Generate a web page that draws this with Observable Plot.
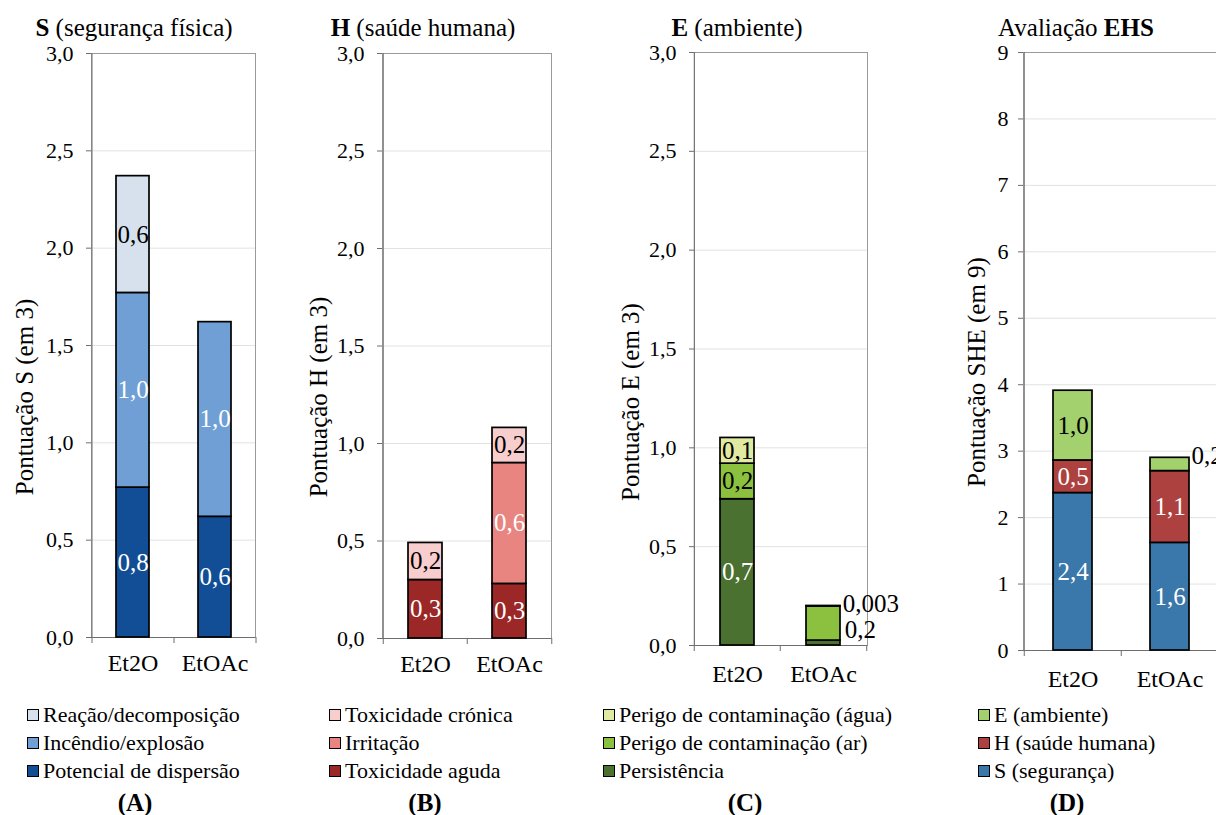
<!DOCTYPE html>
<html><head><meta charset="utf-8">
<script src="https://cdn.jsdelivr.net/npm/d3@7"></script>
<script src="https://cdn.jsdelivr.net/npm/@observablehq/plot@0.6"></script>
<style>
body{margin:0;background:#fff;overflow:hidden}
#root{position:relative;width:1216px;height:815px;overflow:hidden;color:#000;background:#fff}
.abs{position:absolute;white-space:nowrap;line-height:1}
.title{font-size:25px;transform:translate(-50%,-50%)}
.ylab{font-size:25px;transform:translate(-50%,-50%) rotate(-90deg)}
.leg{font-size:22px;display:flex;align-items:center;transform:translateY(-50%)}
.sw{width:12px;height:12px;border:1px solid #000;margin-right:4px;box-sizing:border-box}
.letter{font-size:25px;font-weight:bold;transform:translate(-50%,-50%)}
.plot{position:absolute;top:0}
</style></head><body><div id="root"></div><script>
// ---------- data ----------
const solvents = ["Et2O", "EtOAc"];

// (A) S – segurança física (bottom → top)
const sCats = ["Potencial de dispersão", "Incêndio/explosão", "Reação/decomposição"];
const sColors = ["#124e96", "#6f9fd4", "#d7e1ed"];
const sDispersao = [0.77, 0.62];
const sIncendio = [1.00, 1.00];
const sReacao = [0.60, 0.00];
const sLabels = [["0,8", "0,6"], ["1,0", "1,0"], ["0,6", ""]];

// (B) H – saúde humana
const hCats = ["Toxicidade aguda", "Irritação", "Toxicidade crónica"];
const hColors = ["#9b2727", "#e88581", "#f8cdcd"];
const hAguda = [0.30, 0.28];
const hIrritacao = [0.00, 0.62];
const hCronica = [0.19, 0.18];
const hLabels = [["0,3", "0,3"], ["", "0,6"], ["0,2", "0,2"]];

// (C) E – ambiente
const eCats = ["Persistência", "Perigo de contaminação (ar)", "Perigo de contaminação (água)"];
const eColors = ["#4b7131", "#8cc03f", "#e0eaa0"];
const ePersistencia = [0.74, 0.025];
const eAr = [0.18, 0.172];
const eAgua = [0.13, 0.003];
const eLabels = [["0,7", ""], ["0,2", "0,2"], ["0,1", "0,003"]];

// (D) Avaliação EHS
const dCats = ["S (segurança)", "H (saúde humana)", "E (ambiente)"];
const dColors = ["#3a77aa", "#ad4140", "#a2d16e"];
const dS = [2.37, 1.62];
const dH = [0.49, 1.08];
const dE = [1.05, 0.20];
const dLabels = [["2,4", "1,6"], ["0,5", "1,1"], ["1,0", "0,2"]];

const ticks3 = [0, 0.5, 1, 1.5, 2, 2.5, 3];
const ticks9 = [0, 1, 2, 3, 4, 5, 6, 7, 8, 9];

// ---------- panels ----------
const FONT = "'Liberation Serif', serif";
const fmt1 = d => d.toFixed(1).replace(".", ",");
const fmt0 = d => String(d);

const panels = [
  {left: 0, width: 270, ml: 91, mr: 15, mt: 53, mb: 63, ymax: 3, ticks: ticks3, fmt: fmt1, ypad: 13, xpad: 16,
   cats: sCats, colors: sColors, values: [sDispersao, sIncendio, sReacao], labels: sLabels,
   ink: ["white", "white", "black"], outside: [],
   title: "<b>S</b> (segurança física)", tx: 134, ylab: "Pontuação S (em 3)", yx: 24, yy: 397,
   legX: 27, letter: "(A)", lx: 135},
  {left: 290, width: 280, ml: 92, mr: 19, mt: 53, mb: 62, ymax: 3, ticks: ticks3, fmt: fmt1, ypad: 13, xpad: 16,
   cats: hCats, colors: hColors, values: [hAguda, hIrritacao, hCronica], labels: hLabels,
   ink: ["white", "white", "black"], outside: [],
   title: "<b>H</b> (saúde humana)", tx: 423, ylab: "Pontuação H (em 3)", yx: 318, yy: 397,
   legX: 329, letter: "(B)", lx: 425},
  {left: 600, width: 320, ml: 94, mr: 53, mt: 52, mb: 55, ymax: 3, ticks: ticks3, fmt: fmt1, ypad: 13, xpad: 19,
   cats: eCats, colors: eColors, values: [ePersistencia, eAr, eAgua], labels: eLabels,
   ink: ["white", "black", "black"], outside: [[1, 1, "mid"], [2, 1, "top"]],
   title: "<b>E</b> (ambiente)", tx: 737, ylab: "Pontuação E (em 3)", yx: 630, yy: 402,
   legX: 603, letter: "(C)", lx: 745},
  {left: 940, width: 280, ml: 83, mr: 2, mt: 52, mb: 50, ymax: 9, ticks: ticks9, fmt: fmt0, ypad: 10, xpad: 19,
   cats: dCats, colors: dColors, values: [dS, dH, dE], labels: dLabels,
   ink: ["white", "white", "black"], outside: [[2, 1, "top"]],
   title: "Avaliação <b>EHS</b>", tx: 1076, ylab: "Pontuação SHE (em 9)", yx: 976, yy: 372,
   legX: 978, letter: "(D)", lx: 1067}
];

function table(p) {
  const rows = [];
  p.cats.forEach((c, i) => solvents.forEach((s, j) => {
    const out = p.outside.find(o => o[0] === i && o[1] === j);
    const t = p.labels[i][j];
    rows.push({
      solvent: s, cat: c, value: p.values[i][j],
      inW: !out && p.ink[i] === "white" ? t : "",
      inB: !out && p.ink[i] === "black" ? t : "",
      outMid: out && out[2] === "mid" ? t : "",
      outTop: out && out[2] === "top" ? t : ""
    });
  }));
  return rows;
}

const root = document.getElementById("root");
root.style.fontFamily = FONT;
const H = 700;

function addDiv(cls, html, left, top) {
  const d = document.createElement("div");
  d.className = "abs " + cls;
  d.innerHTML = html;
  d.style.left = left + "px";
  d.style.top = top + "px";
  d.style.fontFamily = FONT;
  root.appendChild(d);
  return d;
}

panels.forEach(p => {
  const step = (p.width - p.ml - p.mr) / 2;
  const bw = step * 0.4;
  const data = table(p);
  const grey = "#6e6e6e";
  const chart = Plot.plot({
    width: p.width, height: H,
    marginLeft: p.ml, marginRight: p.mr, marginTop: p.mt, marginBottom: p.mb,
    style: {background: "transparent", color: "#000", overflow: "visible", fontFamily: FONT},
    x: {domain: solvents, paddingInner: 0.6, paddingOuter: 0.3, axis: null},
    y: {domain: [0, p.ymax], axis: null},
    color: {domain: p.cats, range: p.colors},
    marks: [
      Plot.gridY(p.ticks.filter(t => t > 0 && t < p.ymax), {stroke: "#e2e2e2", strokeOpacity: 1}),
      Plot.frame({stroke: "#9a9a9a"}),
      Plot.ruleX([solvents[0]], {dx: -step / 2, stroke: grey}),
      Plot.ruleY([0], {stroke: grey}),
      Plot.axisY(p.ticks, {tickSize: 5, tickPadding: p.ypad, tickFormat: p.fmt, fontSize: 22, stroke: grey, label: null}),
      Plot.axisX(solvents, {tickSize: 6, tickFormat: () => "", dx: -step / 2, stroke: grey, label: null}),
      Plot.axisX([solvents[1]], {tickSize: 6, tickFormat: () => "", dx: step / 2, stroke: grey, label: null}),
      Plot.axisX(solvents, {tickSize: 0, tickPadding: p.xpad, fontSize: 24, label: null}),
      Plot.barY(data, {x: "solvent", y: "value", fill: "cat", stroke: "#000", strokeWidth: 1.7}),
      Plot.text(data, Plot.stackY({x: "solvent", y: "value", text: "inW", fill: "white", fontSize: 25})),
      Plot.text(data, Plot.stackY({x: "solvent", y: "value", text: "inB", fill: "black", fontSize: 25})),
      Plot.text(data, Plot.stackY({x: "solvent", y: "value", text: "outMid", fill: "black", fontSize: 25, textAnchor: "start", dx: bw / 2 + 4, dy: 6})),
      Plot.text(data, Plot.stackY2({x: "solvent", y: "value", text: "outTop", fill: "black", fontSize: 25, textAnchor: "start", dx: bw / 2 + 2, dy: -2}))
    ]
  });
  chart.classList.add("plot");
  chart.style.left = p.left + "px";
  root.appendChild(chart);

  addDiv("title", p.title, p.tx, 27);
  addDiv("ylab", p.ylab, p.yx, p.yy);

  // legend (top row = top of stack)
  [...p.cats].reverse().forEach((c, k) => {
    const idx = p.cats.length - 1 - k;
    addDiv("leg", `<span class="sw" style="background:${p.colors[idx]}"></span><span>${c}</span>`, p.legX, 715 + k * 28);
  });

  addDiv("letter", p.letter, p.lx, 802);
});
</script></body></html>
